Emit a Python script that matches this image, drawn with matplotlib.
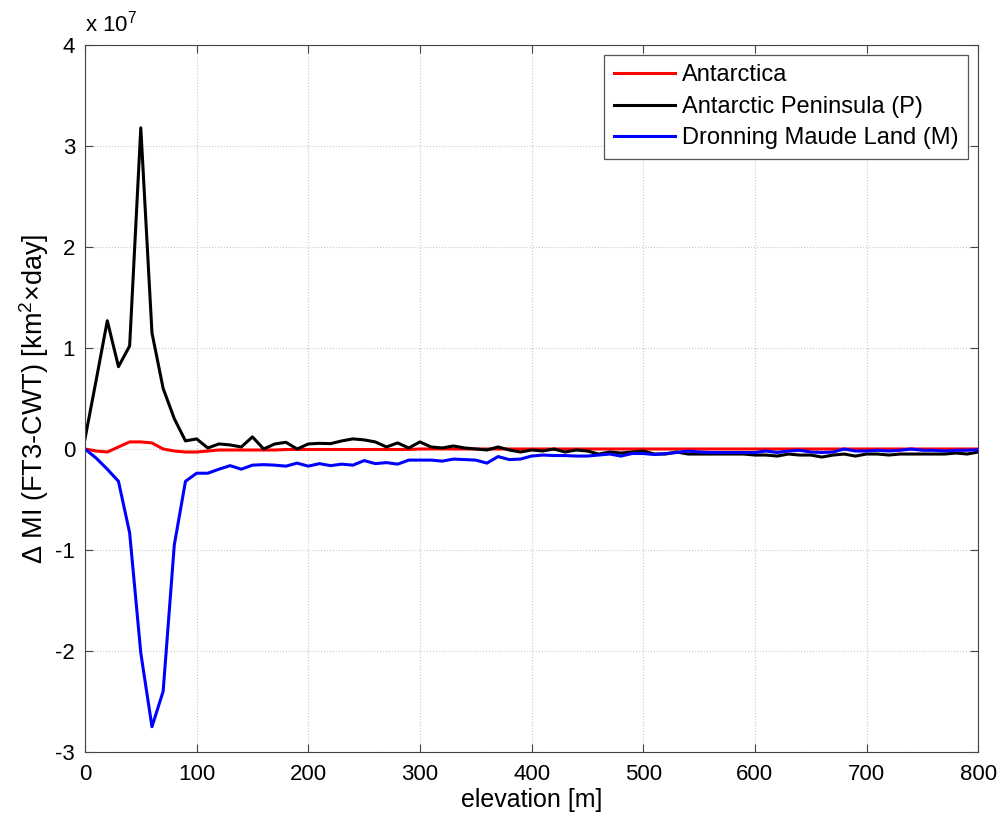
import matplotlib

matplotlib.use("Agg")
import matplotlib.pyplot as plt
import numpy as np

plt.rcParams["font.family"] = ["Liberation Sans", "DejaVu Sans"]
plt.rcParams["mathtext.fontset"] = "custom"
plt.rcParams["mathtext.rm"] = "Liberation Sans"
plt.rcParams["axes.unicode_minus"] = False

# elevation bins (m)
elevation = np.arange(0, 810, 10)

# values in units of 1e7 km^2 x day
antarctica = [
    0.0, -0.02, -0.03, 0.02, 0.07, 0.07, 0.06, 0.0, -0.02, -0.03,
    -0.03, -0.02, -0.01, -0.01, -0.01, -0.01, -0.01, -0.01, -0.005, -0.005,
    -0.005, -0.005, -0.005, -0.005, -0.005, -0.005, -0.005, -0.005, -0.005, -0.005,
    0.0, 0.0, 0.0, 0.0, 0.0, 0.0, 0.0, 0.0, 0.0, 0.0,
    0.0, 0.0, 0.0, 0.0, 0.0, 0.0, 0.0, 0.0, 0.0, 0.0,
    0.0, 0.0, 0.0, 0.0, 0.0, 0.0, 0.0, 0.0, 0.0, 0.0,
    0.0, 0.0, 0.0, 0.0, 0.0, 0.0, 0.0, 0.0, 0.0, 0.0,
    0.0, 0.0, 0.0, 0.0, 0.0, 0.0, 0.0, 0.0, 0.0, 0.0,
    0.0,
]
peninsula = [
    0.1, 0.68, 1.27, 0.815, 1.02, 3.18, 1.15, 0.6, 0.3, 0.08,
    0.1, 0.01, 0.05, 0.04, 0.02, 0.12, 0.0, 0.05, 0.066, 0.0,
    0.05, 0.056, 0.053, 0.08, 0.1, 0.09, 0.07, 0.02, 0.06, 0.01,
    0.07, 0.02, 0.01, 0.03, 0.01, 0.0, -0.01, 0.02, -0.01, -0.03,
    -0.01, -0.02, 0.0, -0.03, -0.01, -0.02, -0.05, -0.03, -0.04, -0.03,
    -0.02, -0.05, -0.05, -0.03, -0.05, -0.05, -0.05, -0.05, -0.05, -0.05,
    -0.06, -0.06, -0.07, -0.05, -0.06, -0.06, -0.08, -0.06, -0.05, -0.07,
    -0.05, -0.05, -0.06, -0.05, -0.05, -0.05, -0.05, -0.05, -0.04, -0.05,
    -0.03,
]
maude = [
    0.0, -0.09, -0.2, -0.32, -0.83, -2.02, -2.75, -2.4, -0.95, -0.32,
    -0.24, -0.24, -0.2, -0.165, -0.2, -0.16, -0.155, -0.16, -0.17, -0.14,
    -0.17, -0.145, -0.165, -0.15, -0.16, -0.115, -0.145, -0.135, -0.15, -0.11,
    -0.11, -0.11, -0.12, -0.1, -0.105, -0.11, -0.14, -0.075, -0.105, -0.1,
    -0.07, -0.06, -0.065, -0.065, -0.07, -0.07, -0.06, -0.05, -0.07, -0.045,
    -0.045, -0.055, -0.045, -0.035, -0.02, -0.03, -0.035, -0.035, -0.035, -0.035,
    -0.035, -0.02, -0.035, -0.02, -0.013, -0.03, -0.035, -0.03, 0.0, -0.02,
    -0.02, -0.013, -0.02, -0.013, 0.0, -0.013, -0.013, -0.02, -0.013, -0.013,
    -0.007,
]
labels = ["Antarctica", "Antarctic Peninsula (P)", "Dronning Maude Land (M)"]

fig = plt.figure(figsize=(10.02, 8.24), dpi=100)
ax = fig.add_axes([0.0848, 0.0874, 0.8915, 0.858])

ax.plot(elevation, antarctica, color="#ff0000", linewidth=2.2, label=labels[0])
ax.plot(elevation, peninsula, color="#000000", linewidth=2.2, label=labels[1])
ax.plot(elevation, maude, color="#0000ff", linewidth=2.2, label=labels[2])

ax.set_xlim(0, 800)
ax.set_ylim(-3, 4)
ax.set_xticks(np.arange(0, 801, 100))
ax.set_yticks(np.arange(-3, 5, 1))
ax.grid(True, color="#c8c8c8", linestyle=":", linewidth=0.8)
ax.tick_params(direction="in", top=True, right=True, labelsize=16, length=6,
               color="#444444")
ax.tick_params(axis="x", pad=9)
ax.tick_params(axis="y", pad=7)
for spine in ax.spines.values():
    spine.set_color("#444444")

ax.set_xlabel("elevation [m]", fontsize=18, labelpad=2)
ax.set_ylabel(r"$\Delta$ MI (FT3-CWT) [km$^2$$\times$day]", fontsize=19.5, labelpad=3)
ax.text(0.0, 1.012, r"x 10$^7$", transform=ax.transAxes, fontsize=16,
        ha="left", va="bottom")

leg = ax.legend(loc="upper right", fontsize=17, handlelength=2.6,
                handletextpad=0.3, borderaxespad=0.42, fancybox=False,
                framealpha=1, edgecolor="#555555", labelspacing=0.4,
                borderpad=0.4)
leg.get_frame().set_linewidth(0.9)

fig.savefig("out.png", dpi=100)
